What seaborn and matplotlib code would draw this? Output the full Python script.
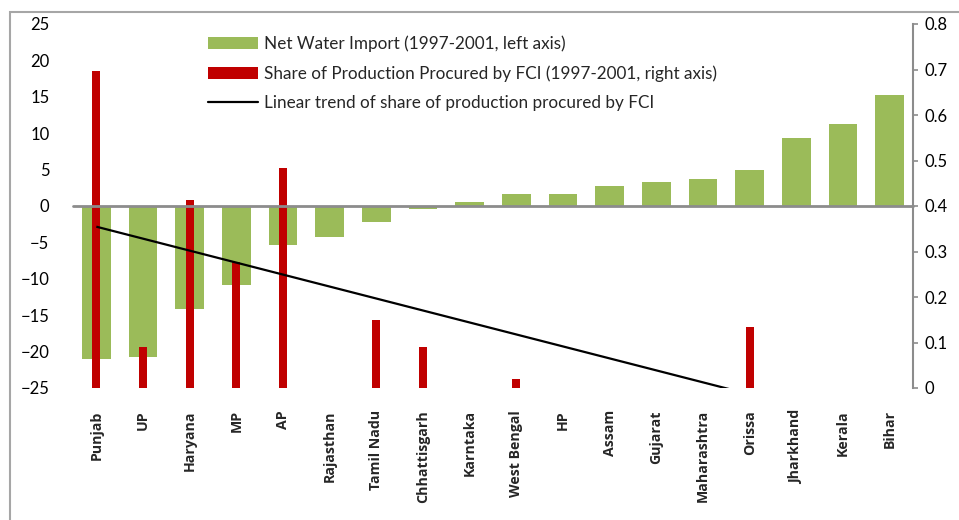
import numpy as np
import pandas as pd
import matplotlib
matplotlib.use('Agg')
import matplotlib.pyplot as plt
import matplotlib.transforms as mtransforms
from matplotlib.patches import Patch, Rectangle
from matplotlib.lines import Line2D
import seaborn as sns

states = ['Punjab', 'UP', 'Haryana', 'MP', 'AP', 'Rajasthan', 'Tamil Nadu',
          'Chhattisgarh', 'Karntaka', 'West Bengal', 'HP', 'Assam', 'Gujarat',
          'Maharashtra', 'Orissa', 'Jharkhand', 'Kerala', 'Bihar']
waterImport = [-21.0, -20.8, -14.1, -10.8, -5.3, -4.2, -2.15, -0.37, 0.55,
               1.65, 1.65, 2.75, 3.3, 3.7, 4.95, 9.3, 11.25, 15.3]
fciShare = [0.697, 0.09, 0.413, 0.278, 0.484, 0.0, 0.149, 0.09, 0.0,
            0.02, 0.0, 0.0, 0.0, 0.0, 0.134, 0.0, 0.0, 0.0]

sns.set_style('white')
plt.rcParams['font.family'] = ['Lato', 'DejaVu Sans']

df = pd.DataFrame({'state': states, 'water': waterImport, 'fci': fciShare})

fig = plt.figure(figsize=(9.59, 5.2), dpi=100)
ax1 = fig.add_axes([73/959, 1-388/520, 840/959, 364/520])
ax2 = ax1.twinx()

sns.barplot(data=df, x='state', y='water', ax=ax1, color='#9BBB59',
            saturation=1, width=0.62, linewidth=0, zorder=1)
sns.barplot(data=df, x='state', y='fci', ax=ax2, color='#C00000',
            saturation=1, width=0.17, linewidth=0, zorder=2)

# linear trend of the FCI share
idx = np.arange(len(states))
slope, icpt = np.polyfit(idx, fciShare, 1)
ax2.plot(idx, slope*idx + icpt, color='black', lw=1.6, zorder=4,
         solid_capstyle='butt')

# zero line of the left axis, drawn over the red bars
trans = mtransforms.blended_transform_factory(ax2.transAxes, ax1.transData)
ax2.plot([0, 1], [0, 0], color='#8c8c8c', lw=2, transform=trans, zorder=3,
         clip_on=False)

ax1.set_ylim(-25, 25)
ax1.set_yticks(np.arange(-25, 26, 5))
ax2.set_ylim(0, 0.8)
ax2.set_yticks(np.arange(0, 0.81, 0.1))
ax2.set_yticklabels(['0'] + ['%.1f' % v for v in np.arange(0.1, 0.81, 0.1)])
ax1.set_xlim(-0.5, 17.5)

for a in (ax1, ax2):
  for s in a.spines.values():
    s.set_visible(False)
  a.set_xlabel('')
  a.set_ylabel('')
ax2.spines['right'].set_visible(True)
ax2.spines['right'].set_color('#8c8c8c')
ax2.spines['right'].set_linewidth(1.5)

ax1.tick_params(axis='y', length=0, pad=17, labelsize=12, labelcolor='black')
ax2.tick_params(axis='y', direction='out', length=3.5, width=1.2,
                color='#8c8c8c', pad=5, labelsize=12, labelcolor='black',
                right=True)
ax1.set_xticks(idx)
ax1.set_xticklabels(states, rotation=90, fontweight='bold', fontsize=10.2,
                    family='Open Sans')
ax1.tick_params(axis='x', length=0, pad=16)
ax2.tick_params(axis='x', bottom=False, labelbottom=False)
ax1.grid(False)
ax2.grid(False)

handles = [Patch(facecolor='#9BBB59', edgecolor='none'),
           Patch(facecolor='#C00000', edgecolor='none'),
           Line2D([0], [0], color='black', lw=1.6)]
labels = ['Net Water Import (1997-2001, left axis)',
          'Share of Production Procured by FCI (1997-2001, right axis)',
          'Linear trend of share of production procured by FCI']
fig.legend(handles, labels, loc='upper left', bbox_to_anchor=(208/959, 1-35/520),
           frameon=False, fontsize=12.3, handlelength=2.9, handletextpad=0.4,
           labelspacing=0.8, borderpad=0, borderaxespad=0)

fig.patches.append(Rectangle((10/959, -0.2), 2, 1.2 - 12/520,
                             transform=fig.transFigure, fill=False,
                             edgecolor='#a6a6a6', lw=1.5))

fig.savefig('out.png', dpi=100)
